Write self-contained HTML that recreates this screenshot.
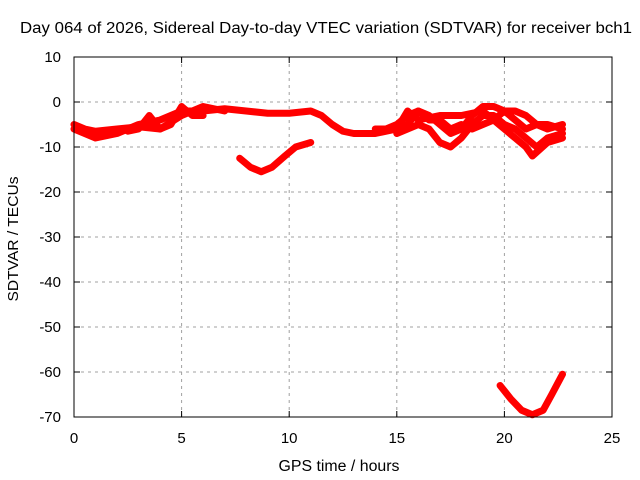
<!DOCTYPE html>
<html><head><meta charset="utf-8"><style>
body{margin:0;background:#fff}
svg{display:block;font-family:"Liberation Sans",sans-serif}
</style></head><body>
<svg id="chart" width="640" height="480">
<text x="326" y="33" text-anchor="middle" font-size="15.5" textLength="612" lengthAdjust="spacingAndGlyphs">Day 064 of 2026, Sidereal Day-to-day VTEC variation (SDTVAR) for receiver bch1</text>
<text x="339" y="471" text-anchor="middle" font-size="15.5" textLength="121" lengthAdjust="spacingAndGlyphs">GPS time / hours</text>
<text transform="translate(18,239) rotate(-90)" text-anchor="middle" font-size="15" textLength="125" lengthAdjust="spacingAndGlyphs">SDTVAR / TECUs</text>
<g id="grid"></g>
<g id="ticks"></g>
<g id="series"></g>
<rect x="74" y="57" width="538" height="360" fill="none" stroke="#000" stroke-width="1"/>
</svg>
<script>
const xTicks=[0,5,10,15,20,25];
const yTicks=[10,0,-10,-20,-30,-40,-50,-60,-70];
const strandA=[[0,-6],[0.5,-7],[1,-8],[1.5,-7.5],[2,-7],[2.5,-6],[3,-5],[3.5,-4.5],[4,-4],[4.5,-3],[5,-2],[6,-2],[7,-1.5],[8,-2],[9,-2.5],[10,-2.5],[11,-2],[11.5,-3],[12,-5],[12.5,-6.5],[13,-7],[14,-7],[15,-6],[15.5,-5]];
const strandA2=[[2.5,-6.5],[3,-6],[3.5,-3],[4,-6],[4.5,-5],[5,-1],[5.5,-3],[6,-3]];
const strandA3=[[0,-5],[0.5,-6],[1,-6.5],[2,-6],[3,-5.5],[4,-6],[5,-3],[6,-1],[7,-2]];
const strandB=[[7.7,-12.5],[8.2,-14.5],[8.7,-15.5],[9.2,-14.5],[9.8,-12],[10.3,-10],[11,-9]];
const strandC=[[19.8,-63],[20.3,-66],[20.8,-68.5],[21.3,-69.5],[21.8,-68.5],[22.2,-65],[22.7,-60.5]];
const strandS1=[[14.5,-6],[15,-5],[15.5,-3],[16,-2],[16.5,-3],[17,-5],[17.5,-7],[18,-6],[18.5,-3],[19,-1],[19.5,-1],[20,-2],[20.5,-4],[21,-6],[21.5,-5],[22,-5],[22.7,-6]];
const strandS2=[[15,-7],[15.5,-6],[16,-5],[16.5,-6],[17,-9],[17.5,-10],[18,-8],[18.5,-5],[19,-3],[19.5,-3],[20,-5],[20.5,-6],[21,-8],[21.5,-10],[22,-8],[22.7,-7]];
const strandS3=[[15.5,-5],[16,-2],[16.5,-4],[17,-4],[17.5,-6],[18,-5],[18.5,-6],[19,-5],[19.5,-4],[20,-2],[20.5,-2],[21,-3],[21.5,-5],[22,-6],[22.7,-5]];
const strandS4=[[14,-6],[15,-6],[15.5,-2],[16,-4],[17,-3],[18,-3],[19,-2],[20,-6],[20.5,-8],[21,-10],[21.3,-12],[22,-9],[22.7,-8]];
const allSeries=[strandA,strandA2,strandA3,strandB,strandC,strandS1,strandS2,strandS3,strandS4];

const X=v=>74+v*538/25, Y=v=>57+(10-v)*360/80;
const NS="http://www.w3.org/2000/svg";
const grid=document.getElementById('grid'),ticks=document.getElementById('ticks'),ser=document.getElementById('series');
function mk(tag,attrs,parent){const e=document.createElementNS(NS,tag);for(const k in attrs)e.setAttribute(k,attrs[k]);parent.appendChild(e);return e;}
xTicks.forEach(t=>{
  const x=X(t);
  if(t>0&&t<25){const l=mk('line',{x1:x,x2:x,y1:57,y2:417,stroke:'#a0a0a0','stroke-dasharray':'3,4'},grid);
  
  }
  mk('line',{x1:x,x2:x,y1:417,y2:411,stroke:'#000'},ticks);
  mk('line',{x1:x,x2:x,y1:57,y2:63,stroke:'#000'},ticks);
  const tx=mk('text',{x:x,y:443,'text-anchor':'middle','font-size':'15'},ticks);tx.textContent=t;
  
  
});
yTicks.forEach(t=>{
  const y=Y(t);
  if(t<10&&t>-70){const l=mk('line',{x1:74,x2:612,y1:y,y2:y,stroke:'#a0a0a0','stroke-dasharray':'3,4'},grid);
  
  }
  mk('line',{x1:74,x2:80,y1:y,y2:y,stroke:'#000'},ticks);
  mk('line',{x1:612,x2:606,y1:y,y2:y,stroke:'#000'},ticks);
  const tx=mk('text',{x:61,y:y+5,'text-anchor':'end','font-size':'15'},ticks);tx.textContent=t;
  
  
});
allSeries.forEach((s,i)=>{
  const p=mk('polyline',{points:s.map(d=>X(d[0])+','+Y(d[1])).join(' '),fill:'none',stroke:'#ff0000','stroke-width':'7','stroke-linejoin':'round','stroke-linecap':'round'},ser);
  
  
});
</script>
</body></html>
